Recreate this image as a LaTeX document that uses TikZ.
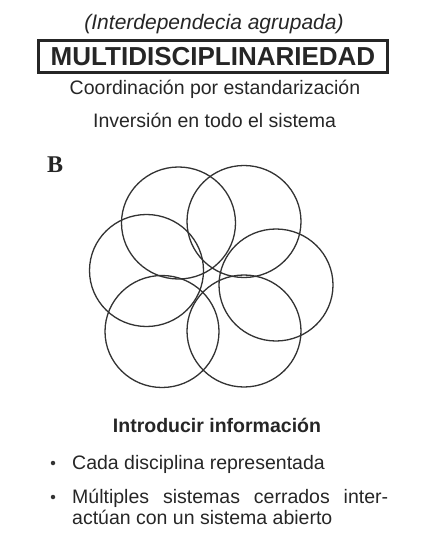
\documentclass[tikz,border=0pt]{standalone}
\usepackage{fontspec}
\setmainfont{Liberation Sans}
\newfontfamily\letterfont{Liberation Serif}

\begin{document}
\begin{tikzpicture}[x=1pt, y=-1pt,
    ring/.style = {draw=black!80, line width=1.3pt},
    txt/.style = {anchor=base, inner sep=0pt, text=black!85, font=\fontsize{19.5}{21}\selectfont},
    titlebox/.style = {draw=black!85, line width=3pt, minimum width=349pt, minimum height=32pt, inner sep=0pt},
    dot/.style = {circle, fill=black!80, inner sep=0pt, minimum size=4.5pt},
    item/.style = {txt, anchor=base west, text width=316pt, align=justify}]
  \useasboundingbox (0,0) rectangle (430,534);
  % heading
  \node[txt, font=\fontsize{21}{24}\selectfont\itshape] (group) at (214,30) {(Interdependecia agrupada)};
  \node[titlebox, text=black!85, font=\fontsize{26}{28}\selectfont\bfseries] (title) at (213,56.5) {MULTIDISCIPLINARIEDAD};
  \node[txt] (coord) at (215,95) {Coordinación por estandarización};
  \node[txt] (invest) at (214.5,127.7) {Inversión en todo el sistema};
  \node[txt, anchor=base west, font=\fontsize{24}{26}\selectfont\letterfont\bfseries] (label) at (47,173) {B};
  % disciplines
  \foreach \cx/\cy in {178.5/223, 244/221.5, 146.5/270.5, 276/285, 162/331.5, 244/331}
    \draw[ring] (\cx,\cy) circle[x radius=57pt, y radius=56pt];
  % bottom text
  \node[txt, font=\fontsize{19.5}{21}\selectfont\bfseries] (input) at (217,432) {Introducir información};
  \node[dot] (dot1) at (53,463) {};
  \node[dot] (dot2) at (53,497) {};
  \node[item] (item1) at (72,469) {Cada disciplina representada};
  \node[item] (item2) at (72,503) {Múltiples sistemas cerrados inter-\linebreak actúan con un sistema abierto};
\end{tikzpicture}
\end{document}
